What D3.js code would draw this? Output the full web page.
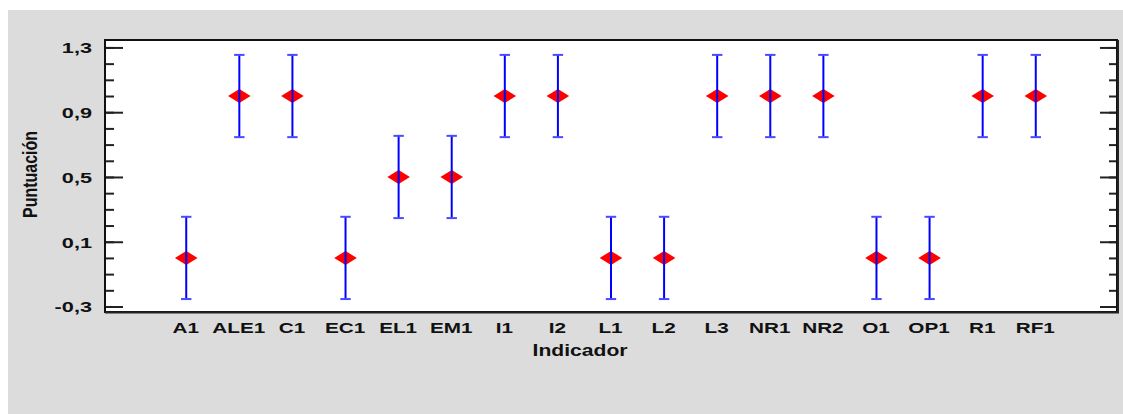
<!DOCTYPE html>
<html>
<head>
<meta charset="utf-8">
<script src="https://cdn.jsdelivr.net/npm/d3@7"></script>
<style>
  html, body { margin: 0; padding: 0; background: #ffffff; }
  svg { display: block; }
  text { font-family: "Liberation Sans", Arial, sans-serif; font-weight: bold; fill: #111; }
</style>
</head>
<body>
<svg id="chart" width="1123" height="414"></svg>
<script>
// Indicators and their scores with the half-width of each interval
const categories = ["A1", "ALE1", "C1", "EC1", "EL1", "EM1", "I1", "I2", "L1", "L2", "L3", "NR1", "NR2", "O1", "OP1", "R1", "RF1"];
const scores     = [0, 1, 1, 0, 0.5, 0.5, 1, 1, 0, 0, 1, 1, 1, 0, 0, 1, 1];
const halfWidths = [0.254, 0.254, 0.254, 0.254, 0.254, 0.254, 0.254, 0.254, 0.254, 0.254, 0.254, 0.254, 0.254, 0.254, 0.254, 0.254, 0.254];
const majorTicks = [-0.3, 0.1, 0.5, 0.9, 1.3];
const minorTicks = [-0.3, -0.2, -0.1, 0, 0.1, 0.2, 0.3, 0.4, 0.5, 0.6, 0.7, 0.8, 0.9, 1.0, 1.1, 1.2, 1.3];
const yDomain    = [-0.334, 1.346];
const xTitle = "Indicador";
const yTitle = "Puntuación";

const fmt = v => d3.format(".1f")(v).replace(".", ",").replace("−", "-");

const svg = d3.select("#chart");
const plot = { left: 105, top: 40, right: 1117, bottom: 312 };

// grey panel
svg.append("rect")
  .attr("x", 8).attr("y", 10).attr("width", 1123 - 8).attr("height", 414 - 10)
  .attr("fill", "#dcdcdc");

// white plotting area
svg.append("rect")
  .attr("x", plot.left).attr("y", plot.top)
  .attr("width", plot.right - plot.left).attr("height", plot.bottom - plot.top)
  .attr("fill", "#ffffff");

const x = d3.scalePoint().domain(categories).range([plot.left, plot.right]).padding(1.53);
const y = d3.scaleLinear().domain(yDomain).range([plot.bottom, plot.top]);

// left axis: inward ticks
const gL = svg.append("g").attr("transform", `translate(${plot.left},0)`);
gL.append("g").call(d3.axisLeft(y).tickValues(minorTicks).tickSizeInner(-9).tickSizeOuter(0).tickFormat(""))
  .call(g => g.select(".domain").remove());
const gLMaj = gL.append("g").call(d3.axisLeft(y).tickValues(majorTicks).tickSizeInner(-18).tickSizeOuter(0).tickPadding(13).tickFormat(fmt))
  .call(g => g.select(".domain").remove());
gL.selectAll("line").attr("stroke", "#222").attr("stroke-width", 2);
gLMaj.selectAll("text")
  .attr("x", null).attr("dy", null)
  .attr("transform", "translate(-13,5.5) scale(1.55,1)")
  .attr("font-size", 14).attr("font-family", null).attr("fill", "#111")
  .attr("text-anchor", "end");

// right axis: inward ticks
const gR = svg.append("g").attr("transform", `translate(${plot.right},0)`);
gR.append("g").call(d3.axisRight(y).tickValues(minorTicks).tickSizeInner(-8).tickSizeOuter(0).tickFormat(""))
  .call(g => g.select(".domain").remove());
gR.append("g").call(d3.axisRight(y).tickValues(majorTicks).tickSizeInner(-17).tickSizeOuter(0).tickFormat(""))
  .call(g => g.select(".domain").remove());
gR.selectAll("line").attr("stroke", "#222").attr("stroke-width", 2);

// bottom axis labels
const gB = svg.append("g").attr("transform", `translate(0,${plot.bottom})`)
  .call(d3.axisBottom(x).tickSize(0).tickPadding(11))
  .call(g => g.select(".domain").remove());
gB.selectAll(".tick text").each(function () {
  const t = d3.select(this);
  const yy = +t.attr("y");
  t.attr("y", null).attr("dy", null)
    .attr("transform", `translate(-1,${yy + 9.9}) scale(1.48,1)`)
    .attr("font-size", 14).attr("font-family", null).attr("fill", "#111");
});

// frame
svg.append("rect")
  .attr("x", plot.left).attr("y", plot.top)
  .attr("width", plot.right - plot.left).attr("height", plot.bottom - plot.top)
  .attr("fill", "none").attr("stroke", "#111").attr("stroke-width", 2);
svg.append("path")
  .attr("d", `M${plot.left},${plot.bottom + 0.5}H${plot.right + 1}V${plot.top}`)
  .attr("fill", "none").attr("stroke", "#222").attr("stroke-width", 2);

// score markers
const rows = categories.map((c, i) => ({ c, v: scores[i], e: halfWidths[i] }));
const diamond = "M-11.3,0L0,-7L11.3,0L0,7Z";
svg.append("g").selectAll("path").data(rows).join("path")
  .attr("d", diamond)
  .attr("transform", d => `translate(${x(d.c)},${y(d.v)})`)
  .attr("fill", "#ff0000");

// interval bars drawn over the markers
const bars = svg.append("g");
bars.selectAll("line.stem").data(rows).join("line").attr("class", "stem")
  .attr("x1", d => x(d.c)).attr("x2", d => x(d.c))
  .attr("y1", d => y(d.v + d.e)).attr("y2", d => y(d.v - d.e))
  .attr("stroke", "#0000ff").attr("stroke-width", 2);
bars.selectAll("line.capTop").data(rows).join("line").attr("class", "capTop")
  .attr("x1", d => x(d.c) - 5.2).attr("x2", d => x(d.c) + 5.2)
  .attr("y1", d => y(d.v + d.e)).attr("y2", d => y(d.v + d.e))
  .attr("stroke", "#4a4aff").attr("stroke-width", 2);
bars.selectAll("line.capBot").data(rows).join("line").attr("class", "capBot")
  .attr("x1", d => x(d.c) - 5.2).attr("x2", d => x(d.c) + 5.2)
  .attr("y1", d => y(d.v - d.e)).attr("y2", d => y(d.v - d.e))
  .attr("stroke", "#4a4aff").attr("stroke-width", 2);

// axis titles
svg.append("text")
  .attr("transform", "translate(580,356) scale(1.32,1)")
  .attr("text-anchor", "middle").attr("font-size", 16)
  .text(xTitle);
svg.append("text")
  .attr("transform", "translate(36.5,174.5) rotate(-90) scale(1,1.3)")
  .attr("text-anchor", "middle").attr("font-size", 16)
  .text(yTitle);
</script>
</body>
</html>
